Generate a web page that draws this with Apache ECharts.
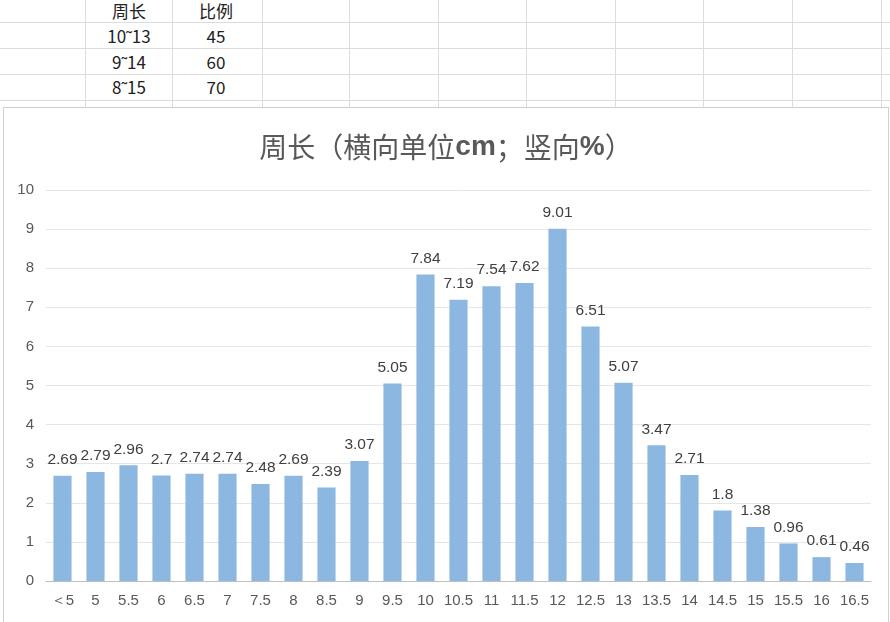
<!DOCTYPE html>
<html>
<head>
<meta charset="utf-8">
<script src="https://cdn.jsdelivr.net/npm/echarts@6/dist/echarts.min.js"></script>
<style>
html,body{margin:0;padding:0;background:#fff;width:890px;height:622px;overflow:hidden;font-family:"Noto Sans CJK SC","Liberation Sans",sans-serif;}
#sheet{position:absolute;left:0;top:0;width:890px;height:622px;}
.vl{position:absolute;top:0;width:1px;height:107px;background:#dcdcdc;}
.hl{position:absolute;left:0;height:1px;width:890px;background:#dcdcdc;}
.cell{position:absolute;width:88px;text-align:center;font-size:17px;color:#222;line-height:24px;}
#chartBox{position:absolute;left:3px;top:107px;width:884px;height:514px;border:1px solid #d0d0d0;background:#fff;}
#chart{width:884px;height:514px;}
</style>
</head>
<body>
<div id="sheet"></div>
<div id="chartBox"><div id="chart"></div></div>
<script>
// spreadsheet data
var tableHeader = ["周长", "比例"];
var tableRanges = ["10˜13", "9˜14", "8˜15"];
var tableShares = ["45", "60", "70"];

// chart data
var categories = ["＜5","5","5.5","6","6.5","7","7.5","8","8.5","9","9.5","10","10.5","11","11.5","12","12.5","13","13.5","14","14.5","15","15.5","16","16.5"];
var values = [2.69,2.79,2.96,2.7,2.74,2.74,2.48,2.69,2.39,3.07,5.05,7.84,7.19,7.54,7.62,9.01,6.51,5.07,3.47,2.71,1.8,1.38,0.96,0.61,0.46];
var yTicks = [0,1,2,3,4,5,6,7,8,9,10];

// build spreadsheet background
(function(){
  var sheet = document.getElementById('sheet');
  var cols = [85,172,262,349,438,526,615,703,792,881];
  cols.forEach(function(x){var d=document.createElement('div');d.className='vl';d.style.left=x+'px';sheet.appendChild(d);});
  [22,48,74,100].forEach(function(y){var d=document.createElement('div');d.className='hl';d.style.top=y+'px';sheet.appendChild(d);});
  var rows = [[tableHeader[0],tableHeader[1]]];
  for(var i=0;i<tableRanges.length;i++) rows.push([tableRanges[i],tableShares[i]]);
  var rowTops=[-1,24,50,75];
  rows.forEach(function(r,ri){
    r.forEach(function(t,ci){
      var d=document.createElement('div');d.className='cell';
      d.style.left=(ci===0?85:172)+'px';d.style.top=rowTops[ri]+'px';
      d.textContent=t;sheet.appendChild(d);
    });
  });
})();

var chart = echarts.init(document.getElementById('chart'), null, {renderer:'canvas'});
chart.setOption({
  animation:false,
  title:{
    text:'{a|周长（横向单位}{b|cm}{a|；竖向}{b|%}{a|）}',
    left:'center', top:20,
    textStyle:{
      fontWeight:'normal',
      rich:{
        a:{fontSize:28,color:'#595959',fontWeight:'normal',fontFamily:'Noto Sans CJK SC'},
        b:{fontSize:28,color:'#595959',fontWeight:'bold',fontFamily:'Liberation Sans'}
      }
    }
  },
  grid:{left:42,right:17,top:82,bottom:41,containLabel:false},
  xAxis:{
    type:'category',
    data:categories,
    axisLine:{lineStyle:{color:'#bfbfbf',width:1}},
    axisTick:{show:false},
    axisLabel:{color:'#595959',fontSize:15,fontFamily:'Liberation Sans',margin:12,interval:0}
  },
  yAxis:{
    type:'value',min:yTicks[0],max:yTicks[yTicks.length-1],interval:1,
    axisLine:{show:false},axisTick:{show:false},
    axisLabel:{color:'#595959',fontSize:15,fontFamily:'Liberation Sans',margin:12},
    splitLine:{lineStyle:{color:'#e6e6e6',width:1}}
  },
  series:[{
    type:'bar',
    data:values,
    barWidth:'55%',
    itemStyle:{color:'#8BB7E1'},
    label:{show:true,position:'top',distance:8,color:'#404040',fontSize:15.5,fontFamily:'Liberation Sans'}
  }]
});
</script>
</body>
</html>
